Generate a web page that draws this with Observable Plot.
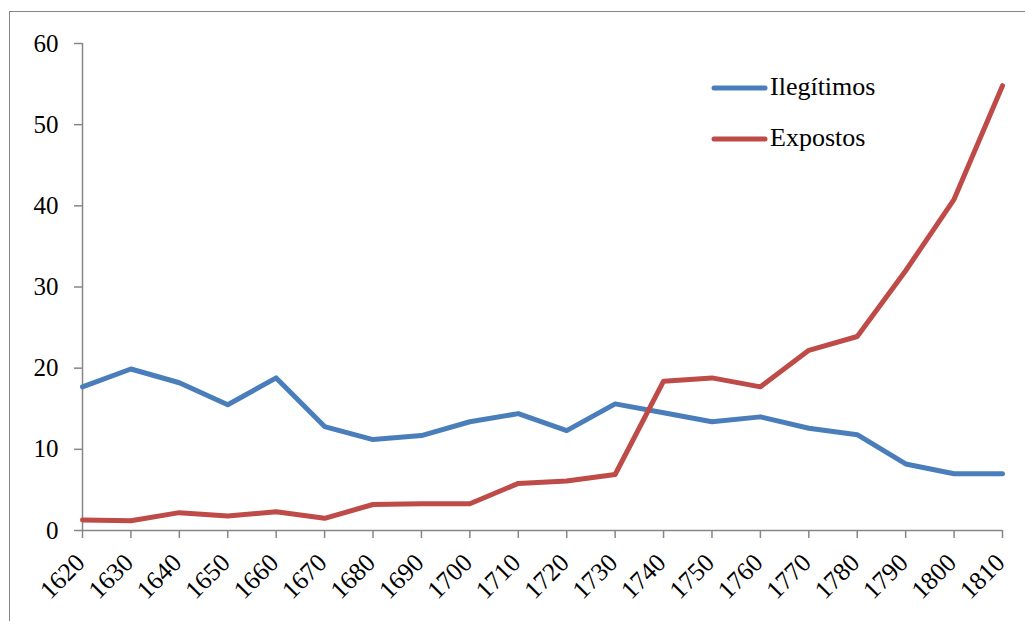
<!DOCTYPE html>
<html><head><meta charset="utf-8">
<script src="https://cdn.jsdelivr.net/npm/d3@7"></script>
<script src="https://cdn.jsdelivr.net/npm/@observablehq/plot@0.6"></script>
<style>
body{margin:0;background:#fff;}
#wrap{position:relative;width:1025px;height:621px;overflow:hidden;font-family:"Liberation Serif","Times New Roman",serif;}
#border{position:absolute;left:9px;top:11px;width:1100px;height:700px;border-left:1.5px solid #868686;border-top:1.5px solid #868686;box-sizing:border-box;}
#chart{position:absolute;left:0;top:0;}
#legend{position:absolute;left:711px;top:62px;}
.item{position:relative;height:51px;font-size:26px;}
.item svg{position:absolute;left:0;top:19px;}
.item span{position:absolute;left:59px;top:10px;line-height:30px;white-space:nowrap;color:#000;}
</style></head>
<body>
<div id="wrap"><div id="border"></div><div id="chart"></div><div id="legend"></div></div>
<script>
const years = [1620,1630,1640,1650,1660,1670,1680,1690,1700,1710,1720,1730,1740,1750,1760,1770,1780,1790,1800,1810];
const ilegitimos = [17.7,19.9,18.2,15.5,18.8,12.8,11.2,11.7,13.4,14.4,12.3,15.6,14.5,13.4,14.0,12.6,11.8,8.2,7.0,7.0];
const expostos = [1.3,1.2,2.2,1.8,2.3,1.5,3.2,3.3,3.3,5.8,6.1,6.9,18.4,18.8,17.7,22.2,23.9,32.0,40.8,54.8];
const seriesNames = ["Ilegítimos","Expostos"];
const seriesColors = ["#4A7EBB","#BE4B48"];
const yTicks = [0,10,20,30,40,50,60];

const data = [
  ...years.map((y,i)=>({year:y, value:ilegitimos[i], series:seriesNames[0]})),
  ...years.map((y,i)=>({year:y, value:expostos[i], series:seriesNames[1]}))
];
const font = '"Liberation Serif","Times New Roman",serif';
const chart = Plot.plot({
  width:1025, height:621,
  marginLeft:82, marginRight:23, marginTop:43, marginBottom:91,
  style:{fontFamily:font, fontSize:"25px", background:"transparent", color:"#000", overflow:"visible"},
  x:{type:"linear", domain:[years[0], years[years.length-1]]},
  y:{domain:[0,60]},
  color:{domain:seriesNames, range:seriesColors},
  marks:[
    Plot.axisY({ticks:yTicks, tickSize:8, tickPadding:16, stroke:"#868686", strokeWidth:1.5, fill:"#000", fontSize:25, tickFormat:d=>String(d), label:null}),
    Plot.axisX({ticks:years, tickSize:8, stroke:"#868686", strokeWidth:1.5, tickFormat:()=>"", label:null}),
    Plot.text(years, {x:d=>d, frameAnchor:"bottom", text:d=>String(d), rotate:-45, textAnchor:"end", lineAnchor:"middle", dx:-2, dy:28, fontSize:25.5, fill:"#000"}),
    Plot.ruleX([years[0]], {stroke:"#868686", strokeWidth:1.5}),
    Plot.ruleY([0], {stroke:"#868686", strokeWidth:1.5}),
    Plot.line(data, {x:"year", y:"value", z:"series", stroke:"series", strokeWidth:5, strokeLinecap:"round", strokeLinejoin:"round"})
  ]
});
document.getElementById("chart").appendChild(chart);

const legend = document.getElementById("legend");
seriesNames.forEach((name,i)=>{
  const item = document.createElement("div");
  item.className = "item";
  item.innerHTML = `<svg width="60" height="14"><line x1="3" y1="7" x2="54" y2="7" stroke="${seriesColors[i]}" stroke-width="5" stroke-linecap="round"/></svg><span>${name}</span>`;
  legend.appendChild(item);
});
</script>
</body></html>
